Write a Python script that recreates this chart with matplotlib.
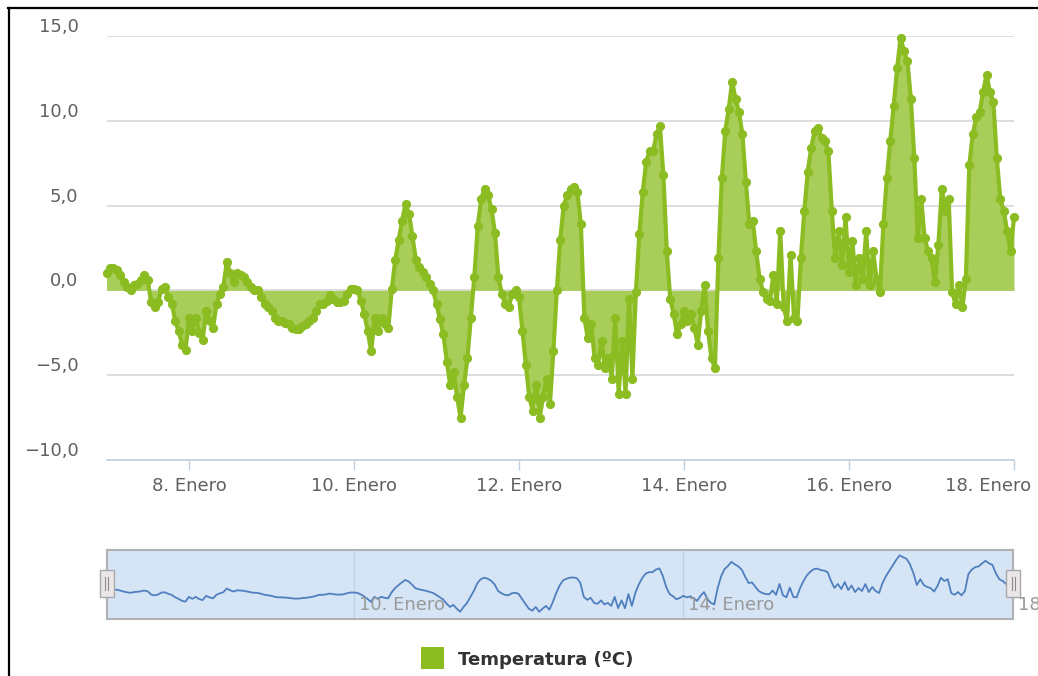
import numpy as np
import matplotlib.pyplot as plt
from matplotlib.patches import Rectangle
from matplotlib.lines import Line2D

# hourly temperature readings, 7 Jan 00:00 -> 18 Jan 00:00
temp = [
    1.0, 1.3, 1.3, 1.2, 0.9, 0.5, 0.2, 0.0, 0.3, 0.4,
    0.6, 0.9, 0.6, -0.7, -1.0, -0.7, 0.1, 0.2, -0.4, -0.8,
    -1.8, -2.4, -3.2, -3.5, -1.6, -2.4, -1.6, -2.5, -2.9, -1.2,
    -1.8, -2.2, -0.8, -0.2, 0.2, 1.7, 1.0, 0.5, 1.0, 0.9,
    0.8, 0.5, 0.2, 0.0, 0.0, -0.4, -0.8, -1.0, -1.2, -1.6,
    -1.8, -1.8, -1.9, -2.0, -2.2, -2.3, -2.3, -2.1, -2.0, -1.8,
    -1.6, -1.2, -0.8, -0.8, -0.6, -0.3, -0.5, -0.7, -0.7, -0.6,
    -0.2, 0.1, 0.1, 0.0, -0.6, -1.4, -2.4, -3.6, -1.6, -2.4,
    -1.6, -2.0, -2.2, 0.1, 1.8, 3.0, 4.1, 5.1, 4.5, 3.2,
    1.8, 1.4, 1.1, 0.8, 0.4, 0.0, -0.8, -1.7, -2.6, -4.2,
    -5.6, -4.8, -6.3, -7.5, -5.6, -4.0, -1.6, 0.8, 3.8, 5.4,
    6.0, 5.6, 4.8, 3.4, 0.8, -0.2, -0.8, -1.0, -0.2, 0.0,
    -0.4, -2.4, -4.4, -6.3, -7.1, -5.6, -7.5, -6.3, -5.2, -6.7,
    -3.6, 0.0, 3.0, 5.0, 5.6, 6.0, 6.1, 5.8, 3.9, -1.6,
    -2.8, -2.0, -4.0, -4.4, -3.0, -4.6, -4.0, -5.2, -1.6, -6.1,
    -3.0, -6.1, -0.5, -5.2, -0.1, 3.3, 5.8, 7.6, 8.2, 8.2,
    9.2, 9.7, 6.8, 2.3, -0.5, -1.4, -2.6, -2.0, -1.2, -1.8,
    -1.4, -2.2, -3.2, -1.2, 0.3, -2.4, -4.0, -4.6, 1.9, 6.6,
    9.4, 10.7, 12.3, 11.3, 10.5, 9.2, 6.4, 3.9, 4.1, 2.3,
    0.7, -0.1, -0.5, -0.6, 0.9, -0.8, 3.5, -1.0, -1.8, 2.1,
    -1.6, -1.8, 1.9, 4.7, 7.0, 8.4, 9.4, 9.6, 9.0, 8.8,
    8.2, 4.7, 1.9, 3.5, 1.5, 4.3, 1.1, 2.9, 0.3, 1.9,
    0.7, 3.5, 0.3, 2.3, 0.7, -0.1, 3.9, 6.6, 8.8, 10.9,
    13.1, 14.9, 14.1, 13.5, 11.3, 7.8, 3.1, 5.4, 3.1, 2.3,
    1.9, 0.5, 2.7, 6.0, 4.7, 5.4, -0.1, -0.8, 0.3, -1.0,
    0.7, 7.4, 9.2, 10.2, 10.5, 11.7, 12.7, 11.7, 11.1, 7.8,
    5.4, 4.7, 3.5, 2.3, 4.3,
]
hours = np.arange(len(temp))

y_ticks = [-10, -5, 0, 5, 10, 15]
y_labels = ['\u221210,0', '\u22125,0', '0,0', '5,0', '10,0', '15,0']
x_ticks = [24, 72, 120, 168, 216, 264]
x_labels = ['8. Enero', '10. Enero', '12. Enero', '14. Enero', '16. Enero', '18. Enero']
nav_ticks = [72, 168, 264]
nav_labels = ['10. Enero', '14. Enero', '18. Enero']
series_name = 'Temperatura (\u00baC)'

GREEN = '#8bbc21'
FILL = '#a8cd58'
W, H = 1038, 676

fig = plt.figure(figsize=(W / 100, H / 100), dpi=100)


def box(x0, y0, x1, y1):
    # pixel box (top-left origin) -> figure fraction rect
    return [x0 / W, 1 - y1 / H, (x1 - x0) / W, (y1 - y0) / H]


def fx(x):
    return x / W


def fy(y):
    return 1 - y / H


# main chart
ax = fig.add_axes(box(106.5, 36, 1014, 460))
ax.set_xlim(0, 264)
ax.set_ylim(-10, 15)
ax.fill_between(hours, temp, 0, color=FILL, lw=0, zorder=2)
ax.plot(hours, temp, color=GREEN, lw=3.0, marker='o', ms=5.6,
        mec=GREEN, mfc=GREEN, zorder=3, clip_on=False)

ax.set_yticks(y_ticks)
ax.set_yticklabels([])
ax.yaxis.grid(True, color='#d8d8d8', lw=1.2)
ax.set_axisbelow(True)
ax.tick_params(axis='y', length=0)
for v, lab in zip(y_ticks, y_labels):
    ax.annotate(lab, xy=(0, v), xycoords=('axes fraction', 'data'),
                xytext=(-28, 9), textcoords='offset pixels',
                ha='right', va='center', fontsize=13, color='#606060')

ax.set_xticks(x_ticks)
ax.set_xticklabels([])
ax.tick_params(axis='x', length=7.5, width=1, color='#c0d0e0')
for i, (h, lab) in enumerate(zip(x_ticks, x_labels)):
    dx = -26 if i == len(x_ticks) - 1 else 0
    ax.annotate(lab, xy=(h, 0), xycoords=('data', 'axes fraction'),
                xytext=(dx, -26), textcoords='offset pixels',
                ha='center', va='center', fontsize=13, color='#606060')

for s in ['top', 'left', 'right']:
    ax.spines[s].set_visible(False)
ax.spines['bottom'].set_color('#c0d0e0')
ax.spines['bottom'].set_linewidth(1.2)
ax.spines['bottom'].set_zorder(4)

# navigator strip
nav = fig.add_axes(box(106.5, 550, 1013, 619))
nav.set_facecolor('#d6e5f6')
nav.set_xlim(0, 264)
nav.set_ylim(-10.4, 17.0)
nav.plot(hours, temp, color='#4f7fbf', lw=1.3, zorder=3)
for h in nav_ticks:
    nav.axvline(h, color='#c2d2e6', lw=1, zorder=1)
for h, lab in zip(nav_ticks, nav_labels):
    nav.annotate(lab, xy=(h, 0), xycoords=('data', 'axes fraction'),
                 xytext=(5, 14), textcoords='offset pixels',
                 ha='left', va='center', fontsize=13, color='#999999',
                 annotation_clip=False, zorder=4)
nav.set_xticks([])
nav.set_yticks([])
for s in nav.spines.values():
    s.set_color('#b2b2b2')
    s.set_linewidth(1.5)

# navigator handles
for xc in (106.5, 1013):
    fig.add_artist(Rectangle((fx(xc - 7), fy(597)), 14 / W, 27 / H,
                             transform=fig.transFigure, facecolor='#ebe7e8',
                             edgecolor='#a9a9a9', lw=1, zorder=5))
    for dx in (-1.5, 1.5):
        fig.add_artist(Line2D([fx(xc + dx)] * 2, [fy(577), fy(590)],
                              transform=fig.transFigure, color='#8a8a8a',
                              lw=0.8, zorder=6))

# legend
fig.add_artist(Rectangle((fx(421), fy(669)), 23 / W, 22 / H,
                         transform=fig.transFigure, facecolor=GREEN,
                         edgecolor='none'))
fig.text(fx(458), fy(660), series_name, fontsize=13, fontweight='bold',
         color='#333333', ha='left', va='center')

# outer frame edges
fig.add_artist(Line2D([fx(8), fx(1038)], [fy(8), fy(8)],
                      transform=fig.transFigure, color='black', lw=1.6))
fig.add_artist(Line2D([fx(9), fx(9)], [fy(8), fy(676)],
                      transform=fig.transFigure, color='black', lw=1.6))

fig.savefig('out.png', dpi=100, facecolor='white')
